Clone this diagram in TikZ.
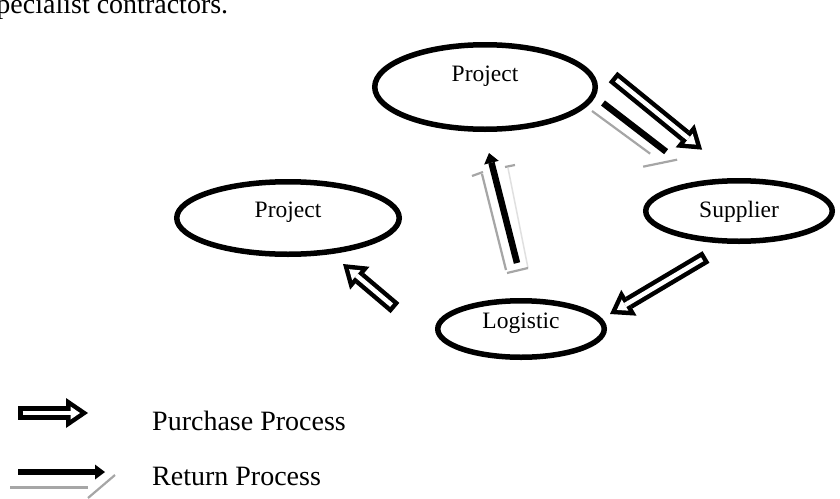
\documentclass[tikz,border=0pt]{standalone}
\usepackage{fontspec}
\setmainfont{Liberation Serif}
\usepackage{tikz}
\usetikzlibrary{arrows.meta,shapes.geometric}

\begin{document}
\begin{tikzpicture}[x=1pt,y=-1pt]
\tikzstyle{blob}=[ellipse,draw=black,line width=5.5pt,inner sep=0pt,text height=18pt,font=\fontsize{23.5}{26}\selectfont]
\tikzstyle{body}=[inner sep=0pt,anchor=base west,font=\fontsize{28}{32}\selectfont]
\tikzstyle{purchase}=[draw=black,line width=13.5pt,-{Triangle[length=22pt,width=30pt,line width=0pt]},
  postaction={draw=white,line width=4.5pt,shorten <=4.5pt,shorten >=8pt,-{Triangle[length=9.5pt,width=13pt,line width=0pt]}}]
\tikzstyle{retbar}=[draw=black,line width=6.5pt]
\tikzstyle{rethead}=[-{Triangle[length=10pt,width=15pt,line width=0pt]}]
\tikzstyle{retshade}=[draw=black!35,line width=2.2pt]
\tikzstyle{retfaint}=[draw=black!12,line width=1.5pt]

\useasboundingbox (0,0) rectangle (840,498);
\clip (0,0) rectangle (840,498);

\node[body] (intro) at (-14.6,13) {specialist contractors.};

\node[blob,minimum width=220.5pt,minimum height=84.5pt,text depth=28.4pt] (projT) at (485,87) {Project};
\node[blob,minimum width=222.5pt,minimum height=72.5pt,text depth=19.4pt] (projL) at (288,218) {Project};
\node[blob,minimum width=186.5pt,minimum height=60.5pt,text depth=4.4pt] (sup) at (739,211) {Supplier};
\node[blob,minimum width=166.5pt,minimum height=56.5pt,text depth=18.4pt] (logi) at (521,329) {Logistic};

% purchase flow
\draw[purchase] ([shift={(15,-10)}]projT.east) -- ([shift={(31,-38)}]sup.north west);
\draw[purchase] ([shift={(-33,13)}]sup.south) -- ([shift={(3,-15)}]logi.east);
\draw[purchase] ([shift={(-40,-21)}]logi.west) -- ([shift={(55,7)}]projL.south);

% return flow
\draw[retshade] ([shift={(-6,24)}]projT.east) -- ([shift={(-21,-34)}]sup.north west);
\draw[retbar] ([shift={(5,16)}]projT.east) -- ([shift={(-5,-36)}]sup.north west);
\draw[retshade] ([shift={(-28,-21)}]sup.north west) -- ([shift={(6,-28)}]sup.north west);

\draw[retfaint] ([shift={(7,-30)}]logi.north) -- ([shift={(23,36)}]projT.south);
\draw[retshade] ([shift={(-15,-28)}]logi.north) -- ([shift={(-3,42)}]projT.south);
\draw[retshade] ([shift={(-13,44)}]projT.south) -- ([shift={(-2,40)}]projT.south);
\draw[retshade] ([shift={(20,35)}]projT.south) -- ([shift={(30,33)}]projT.south);
\draw[retshade] ([shift={(-14,-25)}]logi.north) -- ([shift={(7,-30)}]logi.north);
\draw[retbar,rethead] ([shift={(-4,-35)}]logi.north) -- ([shift={(4,21)}]projT.south);

% legend
\node[body] (pur) at (152,430) {Purchase Process};
\node[body] (ret) at (152,485) {Return Process};
\draw[purchase] ([shift={(-134,-17)}]pur.base west) -- ([shift={(-64,-17)}]pur.base west);
\draw[retshade,line width=3pt] ([shift={(-142,2)}]ret.base west) -- ([shift={(-64,2)}]ret.base west);
\draw[retshade] ([shift={(-64,13)}]ret.base west) -- ([shift={(-37,-10)}]ret.base west);
\draw[retbar,rethead] ([shift={(-134,-13)}]ret.base west) -- ([shift={(-47,-13)}]ret.base west);
\end{tikzpicture}
\end{document}
